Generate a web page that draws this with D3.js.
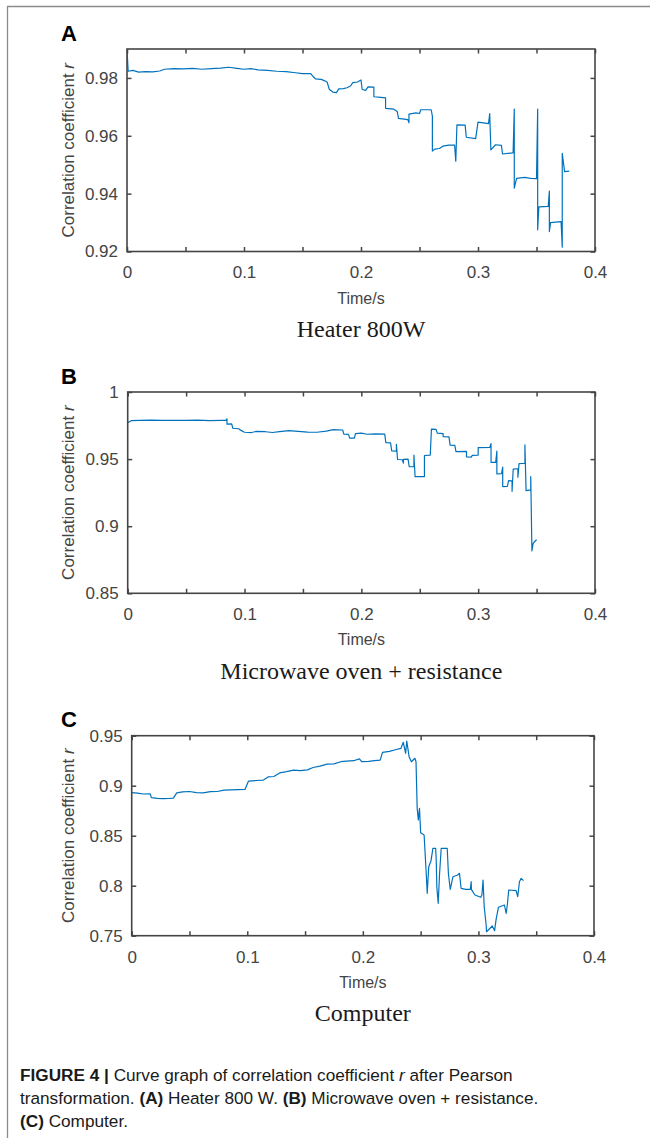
<!DOCTYPE html>
<html>
<head>
<meta charset="utf-8">
<script src="https://cdn.jsdelivr.net/npm/d3@7"></script>
<style>
body { margin: 0; background: #fff; }
svg { display: block; }
</style>
</head>
<body>
<svg width="650" height="1138"></svg>
<script>
// Fig. 4 - correlation coefficient r vs time, three appliances

// x axis shared by the three panels
const xTickValues = [0, 0.05, 0.1, 0.15, 0.2, 0.25, 0.3, 0.35, 0.4]
const xTickLabels = ['0', '', '0.1', '', '0.2', '', '0.3', '', '0.4']

// (A) Heater 800W
const timeA = [0, 0.001, 0.005, 0.010, 0.016, 0.022, 0.028, 0.032, 0.040, 0.048, 0.056, 0.064, 0.072, 0.080, 0.087, 0.094,
	0.100, 0.106, 0.112, 0.120, 0.128, 0.136, 0.144, 0.150, 0.157, 0.159, 0.161, 0.166, 0.169, 0.171, 0.173, 0.176,
	0.179, 0.181, 0.185, 0.188, 0.191, 0.193, 0.197, 0.200, 0.201, 0.204, 0.206, 0.211, 0.211, 0.217, 0.221, 0.221,
	0.228, 0.231, 0.232, 0.240, 0.241, 0.241, 0.247, 0.250, 0.251, 0.260, 0.261, 0.261, 0.263, 0.267, 0.270, 0.275,
	0.280, 0.281, 0.282, 0.289, 0.290, 0.298, 0.300, 0.309, 0.310, 0.311, 0.315, 0.320, 0.321, 0.330, 0.331, 0.331,
	0.333, 0.340, 0.345, 0.350, 0.351, 0.351, 0.352, 0.360, 0.361, 0.361, 0.362, 0.371, 0.372, 0.372, 0.374, 0.378]
const corrA = [0.990, 0.9823, 0.9826, 0.9820, 0.9822, 0.9821, 0.9824, 0.9830, 0.9832, 0.9831, 0.9833, 0.9830, 0.9832, 0.9834, 0.9837, 0.9833,
	0.9830, 0.9832, 0.9828, 0.9826, 0.9823, 0.9822, 0.9818, 0.9815, 0.9815, 0.9805, 0.9797, 0.9795, 0.9790, 0.9786, 0.9760, 0.9751,
	0.9749, 0.9762, 0.9763, 0.9766, 0.9772, 0.9784, 0.9786, 0.9793, 0.9760, 0.9757, 0.9769, 0.9768, 0.9735, 0.9733, 0.9731, 0.9695,
	0.9692, 0.9684, 0.9660, 0.9656, 0.9645, 0.9675, 0.9679, 0.9677, 0.9690, 0.9690, 0.9668, 0.9547, 0.9554, 0.9556, 0.9564, 0.9568,
	0.9568, 0.9512, 0.9638, 0.9637, 0.9595, 0.9590, 0.9647, 0.9642, 0.9677, 0.9551, 0.9569, 0.9567, 0.9537, 0.9541, 0.9692, 0.9419,
	0.9453, 0.9456, 0.9453, 0.9452, 0.9692, 0.9275, 0.9354, 0.9356, 0.9409, 0.9269, 0.9300, 0.9303, 0.9215, 0.9539, 0.9476, 0.9478]
const yTicksA = [0.92, 0.94, 0.96, 0.98]
const yLabelsA = ['0.92', '0.94', '0.96', '0.98']

// (B) Microwave oven + resistance
const timeB = [0, 0.003, 0.010, 0.020, 0.030, 0.040, 0.050, 0.060, 0.070, 0.080, 0.084, 0.085, 0.085, 0.089, 0.090, 0.095,
	0.097, 0.100, 0.106, 0.110, 0.118, 0.124, 0.130, 0.138, 0.146, 0.154, 0.162, 0.170, 0.176, 0.184, 0.185, 0.189,
	0.190, 0.194, 0.195, 0.200, 0.205, 0.212, 0.220, 0.221, 0.225, 0.226, 0.230, 0.230, 0.231, 0.235, 0.236, 0.236,
	0.240, 0.241, 0.245, 0.245, 0.246, 0.254, 0.254, 0.259, 0.260, 0.264, 0.265, 0.270, 0.270, 0.275, 0.276, 0.280,
	0.281, 0.290, 0.290, 0.294, 0.295, 0.300, 0.300, 0.310, 0.311, 0.311, 0.315, 0.316, 0.316, 0.320, 0.321, 0.321,
	0.325, 0.326, 0.329, 0.329, 0.330, 0.334, 0.334, 0.335, 0.340, 0.340, 0.341, 0.345, 0.345, 0.346, 0.347, 0.348, 0.350]
const corrB = [0.9771, 0.9786, 0.9789, 0.9791, 0.9789, 0.9788, 0.9789, 0.9790, 0.9787, 0.9788, 0.9788, 0.9800, 0.9760, 0.9762, 0.9730, 0.9726,
	0.9714, 0.9700, 0.9698, 0.9706, 0.9704, 0.9698, 0.9705, 0.9712, 0.9706, 0.9701, 0.9700, 0.9708, 0.9719, 0.9717, 0.9686, 0.9684,
	0.9656, 0.9657, 0.9690, 0.9693, 0.9685, 0.9688, 0.9686, 0.9623, 0.9621, 0.9561, 0.9560, 0.9610, 0.9497, 0.9495, 0.9470, 0.9498,
	0.9500, 0.9443, 0.9443, 0.9530, 0.9369, 0.9370, 0.9527, 0.9530, 0.9724, 0.9722, 0.9693, 0.9690, 0.9668, 0.9666, 0.9604, 0.9603,
	0.9556, 0.9558, 0.9517, 0.9515, 0.9528, 0.9530, 0.9586, 0.9588, 0.9615, 0.9475, 0.9476, 0.9560, 0.9389, 0.9392, 0.9440, 0.9295,
	0.9297, 0.9339, 0.9338, 0.9260, 0.9426, 0.9428, 0.9365, 0.9467, 0.9469, 0.9606, 0.9265, 0.9270, 0.9369, 0.8816, 0.8870, 0.8882, 0.8899]
const yTicksB = [0.85, 0.9, 0.95, 1]
const yLabelsB = ['0.85', '0.9', '0.95', '1']

// (C) Computer
const timeC = [0, 0.005, 0.010, 0.016, 0.017, 0.022, 0.027, 0.032, 0.036, 0.039, 0.044, 0.050, 0.056, 0.062, 0.068, 0.074,
	0.080, 0.086, 0.092, 0.098, 0.101, 0.108, 0.114, 0.118, 0.123, 0.128, 0.134, 0.140, 0.146, 0.152, 0.157, 0.163,
	0.169, 0.175, 0.181, 0.186, 0.192, 0.197, 0.199, 0.205, 0.210, 0.215, 0.217, 0.223, 0.229, 0.233, 0.235, 0.237,
	0.238, 0.240, 0.242, 0.245, 0.246, 0.247, 0.248, 0.249, 0.250, 0.253, 0.255, 0.2557, 0.257, 0.259, 0.2606, 0.263,
	0.2635, 0.264, 0.2652, 0.2664, 0.2678, 0.273, 0.274, 0.2756, 0.278, 0.282, 0.2836, 0.285, 0.289, 0.293, 0.2937, 0.294,
	0.297, 0.302, 0.303, 0.304, 0.305, 0.3067, 0.307, 0.312, 0.314, 0.3153, 0.3173, 0.3225, 0.324, 0.325, 0.3262, 0.3326,
	0.334, 0.3355, 0.337, 0.339]
const corrC = [0.8930, 0.8925, 0.8917, 0.8918, 0.8880, 0.8874, 0.8870, 0.8872, 0.8876, 0.8928, 0.8938, 0.8942, 0.8930, 0.8928, 0.8940, 0.8942,
	0.8955, 0.8958, 0.8960, 0.8963, 0.9045, 0.9052, 0.9056, 0.9088, 0.9092, 0.9128, 0.9140, 0.9156, 0.9150, 0.9158, 0.9182, 0.9196,
	0.9215, 0.9218, 0.9240, 0.9245, 0.9250, 0.9268, 0.9240, 0.9244, 0.9250, 0.9255, 0.9334, 0.9344, 0.9362, 0.9374, 0.9434, 0.9324,
	0.9447, 0.9290, 0.9240, 0.9274, 0.9240, 0.8774, 0.8657, 0.8774, 0.8530, 0.8507, 0.8090, 0.7924, 0.8190, 0.8250, 0.8374, 0.8374,
	0.8250, 0.7990, 0.7824, 0.8124, 0.8374, 0.8374, 0.8124, 0.7964, 0.8090, 0.8107, 0.8124, 0.7974, 0.7964, 0.7964, 0.8040, 0.7960,
	0.7907, 0.7884, 0.7907, 0.8057, 0.7790, 0.7607, 0.7540, 0.7597, 0.7550, 0.7664, 0.7784, 0.7807, 0.7724, 0.7807, 0.7957, 0.7950,
	0.7890, 0.8040, 0.8074, 0.8050]
const yTicksC = [0.75, 0.8, 0.85, 0.9, 0.95]
const yLabelsC = ['0.75', '0.8', '0.85', '0.9', '0.95']

const svg = d3.select('svg')
const axisColor = '#454545'
const lineColor = '#0072bd'
const sans = '"Liberation Sans", Arial, sans-serif'
const serif = '"Liberation Serif", "Times New Roman", serif'

// page frame
svg.append('line').attr('x1', 7).attr('x2', 650).attr('y1', 6.5).attr('y2', 6.5)
	.attr('stroke', '#8c8c8c').attr('stroke-width', 1.3)
svg.append('line').attr('x1', 7.5).attr('x2', 7.5).attr('y1', 6).attr('y2', 1138)
	.attr('stroke', '#8c8c8c').attr('stroke-width', 1.3)

const panels = [
	{id: 'A', title: 'Heater 800W', time: timeA, corr: corrA, yDomain: [0.92, 0.99], yTicks: yTicksA, yLabels: yLabelsA,
		left: 127, right: 595, top: 49, bottom: 251.5},
	{id: 'B', title: 'Microwave oven + resistance', time: timeB, corr: corrB, yDomain: [0.85, 1], yTicks: yTicksB, yLabels: yLabelsB,
		left: 127.7, right: 595, top: 392, bottom: 593.3},
	{id: 'C', title: 'Computer', time: timeC, corr: corrC, yDomain: [0.75, 0.95], yTicks: yTicksC, yLabels: yLabelsC,
		left: 131.7, right: 594, top: 735.7, bottom: 935.7}
]

function drawPanel(p) {
	const x = d3.scaleLinear().domain([0, 0.4]).range([p.left, p.right])
	const y = d3.scaleLinear().domain(p.yDomain).range([p.bottom, p.top])
	const g = svg.append('g').attr('id', 'panel' + p.id)

	// curve, clipped to the box
	g.append('clipPath').attr('id', 'clip' + p.id)
		.append('rect').attr('x', p.left).attr('y', p.top)
		.attr('width', p.right - p.left).attr('height', p.bottom - p.top)
	const points = p.time.map((t, i) => ({t: t, r: p.corr[i]}))
	const line = d3.line().x(d => x(d.t)).y(d => y(d.r))
	g.append('path').datum(points)
		.attr('clip-path', 'url(#clip' + p.id + ')')
		.attr('fill', 'none').attr('stroke', lineColor)
		.attr('stroke-width', 1.2).attr('stroke-linejoin', 'round')
		.attr('d', line)

	// axes: ticks pointing inwards on all four sides
	const xFmt = (d, i) => xTickLabels[i]
	const yFmt = (d, i) => p.yLabels[i]
	const bottomAxis = g.append('g').attr('transform', 'translate(0,' + p.bottom + ')')
		.call(d3.axisBottom(x).tickValues(xTickValues).tickFormat(xFmt).tickSize(-4.5).tickPadding(21))
	const topAxis = g.append('g').attr('transform', 'translate(0,' + p.top + ')')
		.call(d3.axisTop(x).tickValues(xTickValues).tickFormat('').tickSize(-4.5))
	const leftAxis = g.append('g').attr('transform', 'translate(' + p.left + ',0)')
		.call(d3.axisLeft(y).tickValues(p.yTicks).tickFormat(yFmt).tickSize(-4.5).tickPadding(9))
	const rightAxis = g.append('g').attr('transform', 'translate(' + p.right + ',0)')
		.call(d3.axisRight(y).tickValues(p.yTicks).tickFormat('').tickSize(-4.5))

	;[bottomAxis, topAxis, leftAxis, rightAxis].forEach(a => {
		a.select('.domain').remove()
		a.selectAll('line').attr('stroke', axisColor).attr('stroke-width', 1.5)
		a.selectAll('text').attr('fill', '#444').style('font-family', sans).style('font-size', '17px')
	})
	bottomAxis.selectAll('text').attr('dy', '0.35em')

	g.append('rect').attr('x', p.left).attr('y', p.top)
		.attr('width', p.right - p.left).attr('height', p.bottom - p.top)
		.attr('fill', 'none').attr('stroke', axisColor).attr('stroke-width', 1.6)

	const mid = (p.left + p.right) / 2
	g.append('text').attr('x', mid).attr('y', p.bottom + 52)
		.attr('text-anchor', 'middle').attr('fill', '#444')
		.style('font-family', sans).style('font-size', '16px')
		.text('Time/s')

	const yl = g.append('text')
		.attr('transform', 'translate(74,' + (p.top + p.bottom) / 2 + ') rotate(-90)')
		.attr('text-anchor', 'middle').attr('fill', '#444')
		.style('font-family', sans).style('font-size', '17px')
	yl.append('tspan').text('Correlation coefficient ')
	yl.append('tspan').style('font-style', 'italic').text('r')

	g.append('text').attr('x', mid).attr('y', p.bottom + 85.5)
		.attr('text-anchor', 'middle').attr('fill', '#1a1a1a')
		.style('font-family', serif).style('font-size', '24px')
		.text(p.title)

	g.append('text').attr('x', 61).attr('y', p.top - 8.3)
		.attr('fill', '#000').style('font-family', sans)
		.style('font-size', '22px').style('font-weight', 'bold')
		.text(p.id)
}

panels.forEach(drawPanel)

// caption
const caption = svg.append('text').attr('fill', '#1a1a1a')
	.style('font-family', sans).style('font-size', '17.2px')
const captionLines = [
	[['FIGURE 4 |', true], [' Curve graph of correlation coefficient ', false], ['r', 'i'], [' after Pearson', false]],
	[['transformation. ', false], ['(A)', true], [' Heater 800 W. ', false], ['(B)', true], [' Microwave oven + resistance.', false]],
	[['(C)', true], [' Computer.', false]]
]
captionLines.forEach((parts, li) => {
	parts.forEach((part, pi) => {
		const ts = caption.append('tspan').text(part[0])
		if (pi === 0) ts.attr('x', 20).attr('y', 1081 + li * 23)
		if (part[1] === true) ts.style('font-weight', 'bold')
		if (part[1] === 'i') ts.style('font-style', 'italic')
	})
})
</script>
</body>
</html>
